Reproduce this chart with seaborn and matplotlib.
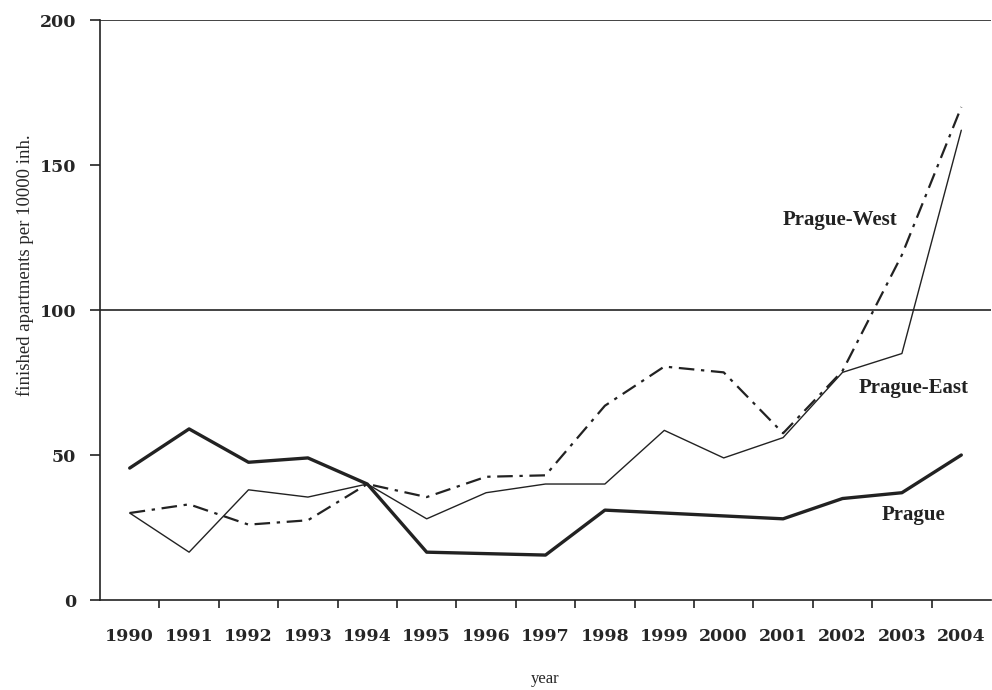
import pandas as pd
import matplotlib.pyplot as plt
import seaborn as sns

# values
years = list(range(1990, 2005))
prague = [45.5, 59, 47.5, 49, 40, 16.5, 16, 15.5, 31, 30, 29, 28, 35, 37, 50]
prague_east = [30, 16.5, 38, 35.5, 40, 28, 37, 40, 40, 58.5, 49, 56, 78.5, 85, 162]
prague_west = [30, 33, 26, 27.5, 40, 35.5, 42.5, 43, 67, 80.5, 78.5, 57.5, 79, 119, 170]
y_ticks = [0, 50, 100, 150, 200]

df = pd.DataFrame({'year': years, 'Prague': prague,
                   'Prague-East': prague_east, 'Prague-West': prague_west})

sns.set_style('white')
plt.rcParams['font.family'] = ['Liberation Serif', 'DejaVu Serif']

fig = plt.figure(figsize=(9.92, 6.9), dpi=100)
ax = fig.add_axes([0.1008, 0.1304, 0.8982, 0.8406])

ink = '#222222'
sns.lineplot(data=df, x='year', y='Prague-West', ax=ax, color=ink, lw=1.6,
             linestyle=(0, (7, 3, 1.5, 3)))
sns.lineplot(data=df, x='year', y='Prague-East', ax=ax, color=ink, lw=1.0)
sns.lineplot(data=df, x='year', y='Prague', ax=ax, color=ink, lw=2.4)

# horizontal reference lines at 100 and 200
for v in (100, 200):
    ax.axhline(v, color=ink, lw=1.2, zorder=0)

ax.set_xlim(1989.5, 2004.5)
ax.set_ylim(0, 200)
ax.set_xticks(years)
ax.set_xticks([y + 0.5 for y in years[:-1]], minor=True)
ax.set_yticks(y_ticks)
ax.set_xticklabels([str(y) for y in years], fontfamily='DejaVu Serif',
                   fontweight='bold', fontsize=12.5)
ax.set_yticklabels([str(v) for v in y_ticks], fontfamily='DejaVu Serif',
                   fontweight='bold', fontsize=12.5)
ax.tick_params(axis='x', which='major', length=0, pad=20)
ax.tick_params(axis='x', which='minor', length=6, width=1.2, color=ink,
               direction='out', bottom=True)
ax.tick_params(axis='y', length=7, width=1.2, color=ink, direction='out',
               left=True, pad=10)

for s in ('top', 'right'):
    ax.spines[s].set_visible(False)
for s in ('left', 'bottom'):
    ax.spines[s].set_color(ink)
    ax.spines[s].set_linewidth(1.2)

ax.set_xlabel('year', fontsize=12, labelpad=19)
ax.set_ylabel('finished apartments per 10000 inh.', fontsize=13.5)
ax.yaxis.set_label_coords(-0.074, 0.578)

ax.text(2001.95, 131, 'Prague-West', fontsize=15, fontweight='bold',
        ha='center', va='center', color=ink)
ax.text(2003.2, 73, 'Prague-East', fontsize=15, fontweight='bold',
        ha='center', va='center', color=ink)
ax.text(2003.2, 29.3, 'Prague', fontsize=15, fontweight='bold',
        ha='center', va='center', color=ink)

fig.savefig('out.png', dpi=100)
